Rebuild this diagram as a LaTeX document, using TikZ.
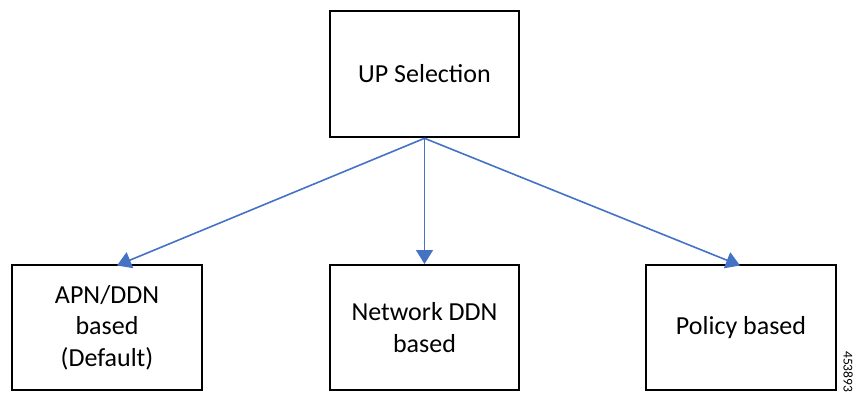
\documentclass[tikz,border=0pt]{standalone}
\usepackage{fontspec}
\setmainfont{Carlito}
\usetikzlibrary{arrows.meta}
\definecolor{arrowblue}{HTML}{4472C4}
\begin{document}
\begin{tikzpicture}[x=1pt,y=-1pt,
  box/.style={draw=black,line width=2pt,fill=white,align=center,inner sep=0pt,
    font=\fontsize{26}{31.7}\selectfont},
  conn/.style={draw=arrowblue,line width=1.6pt,-{Triangle[length=14pt,width=17pt]}}]
\useasboundingbox (0,0) rectangle (854,396);
\node[box,line width=2.6pt,minimum width=189pt,minimum height=126pt] (top) at (424.5,74) {UP Selection};
\node[box,minimum width=190pt,minimum height=125pt] (left) at (107,327.5) {APN/DDN\\based\\(Default)};
\node[box,minimum width=189pt,minimum height=125pt] (mid) at (424.5,327.5) {Network DDN\\based};
\node[box,minimum width=190pt,minimum height=125pt] (right) at (741,327.5) {Policy based};
\coordinate (src) at (top.south);
\coordinate (lt) at (117,265.5);
\coordinate (rt) at (740,265.5);
\draw[conn] (src) -- (lt);
\draw[conn] (src) -- (mid.north);
\draw[conn] (src) -- (rt);
\node[rotate=-90,font=\fontsize{13.5}{15}\selectfont,anchor=north west,inner sep=0pt] (num) at (853,351) {453893};
\end{tikzpicture}
\end{document}
